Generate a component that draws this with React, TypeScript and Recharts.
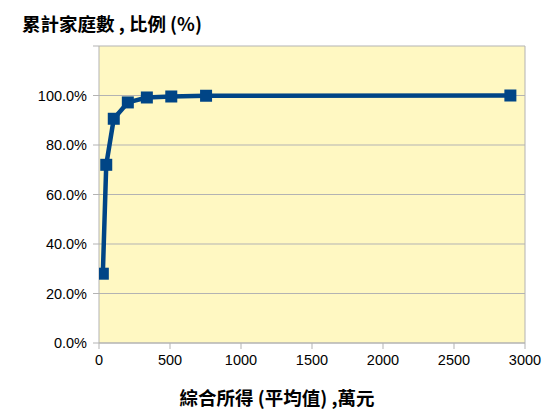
import React from 'react';
import { LineChart, Line, XAxis, YAxis, CartesianGrid, ReferenceLine } from 'recharts';

const incomes = [27, 51, 104, 203, 337, 509, 754, 2897];
const cumulativePct = [28.0, 72.0, 90.6, 97.2, 99.2, 99.6, 99.9, 100.0];
const xTicks = [0, 500, 1000, 1500, 2000, 2500, 3000];
const yTicks = [0, 20, 40, 60, 80, 100, 120];
const yTitle = '累計家庭數 , 比例 (%)';
const xTitle = '綜合所得 (平均值) ,萬元';

const data = incomes.map((x, i) => ({ x, y: cumulativePct[i] }));

const GRID = '#b3b3b3';
const BLUE = '#004586';
const CJK = '"Noto Sans CJK TC", "Noto Sans CJK SC", sans-serif';
const SANS = '"Liberation Sans", Arial, sans-serif';

const SquareDot = (props: any) => {
  const { cx, cy, index } = props;
  if (cx == null || cy == null) return null;
  return <rect key={`d${index}`} x={cx - 6} y={cy - 6} width={12} height={12} fill={BLUE} />;
};

export default function App() {
  return (
    <div style={{ position: 'absolute', left: 0, top: 0, width: 560, height: 420, background: '#fff' }}>
      <LineChart
        width={560}
        height={420}
        data={data}
        margin={{ top: 46, right: 35, bottom: 47, left: 0 }}
      >
        <CartesianGrid vertical={false} stroke={GRID} fill="#fff8c2" fillOpacity={1} />
        <XAxis
          dataKey="x"
          type="number"
          domain={[0, 3000]}
          ticks={xTicks}
          height={30}
          stroke={GRID}
          tickSize={6}
          tickMargin={6}
          tick={{ fill: '#000', fontSize: 14.5, fontFamily: SANS }}
          allowDataOverflow
        />
        <YAxis
          type="number"
          domain={[0, 120]}
          ticks={yTicks}
          width={99}
          stroke={GRID}
          tickSize={6}
          tickMargin={6}
          interval={0}
          tickFormatter={(v: number) => (v === 120 ? '' : v.toFixed(1) + '%')}
          tick={{ fill: '#000', fontSize: 14.5, fontFamily: SANS }}
        />
        <ReferenceLine x={3000} stroke={GRID} />
        <Line
          type="linear"
          dataKey="y"
          stroke={BLUE}
          strokeWidth={4.5}
          dot={SquareDot}
          activeDot={false}
          isAnimationActive={false}
        />
      </LineChart>
      <div
        style={{
          position: 'absolute',
          left: 22,
          top: 11,
          fontFamily: CJK,
          fontWeight: 'bold',
          fontSize: 18.5,
          lineHeight: '24px',
          color: '#000',
          whiteSpace: 'nowrap',
        }}
      >
        {yTitle}
      </div>
      <div
        style={{
          position: 'absolute',
          left: 0,
          width: 554,
          top: 385,
          textAlign: 'center',
          fontFamily: CJK,
          fontWeight: 'bold',
          fontSize: 18.5,
          lineHeight: '24px',
          color: '#000',
          whiteSpace: 'nowrap',
        }}
      >
        {xTitle}
      </div>
    </div>
  );
}
